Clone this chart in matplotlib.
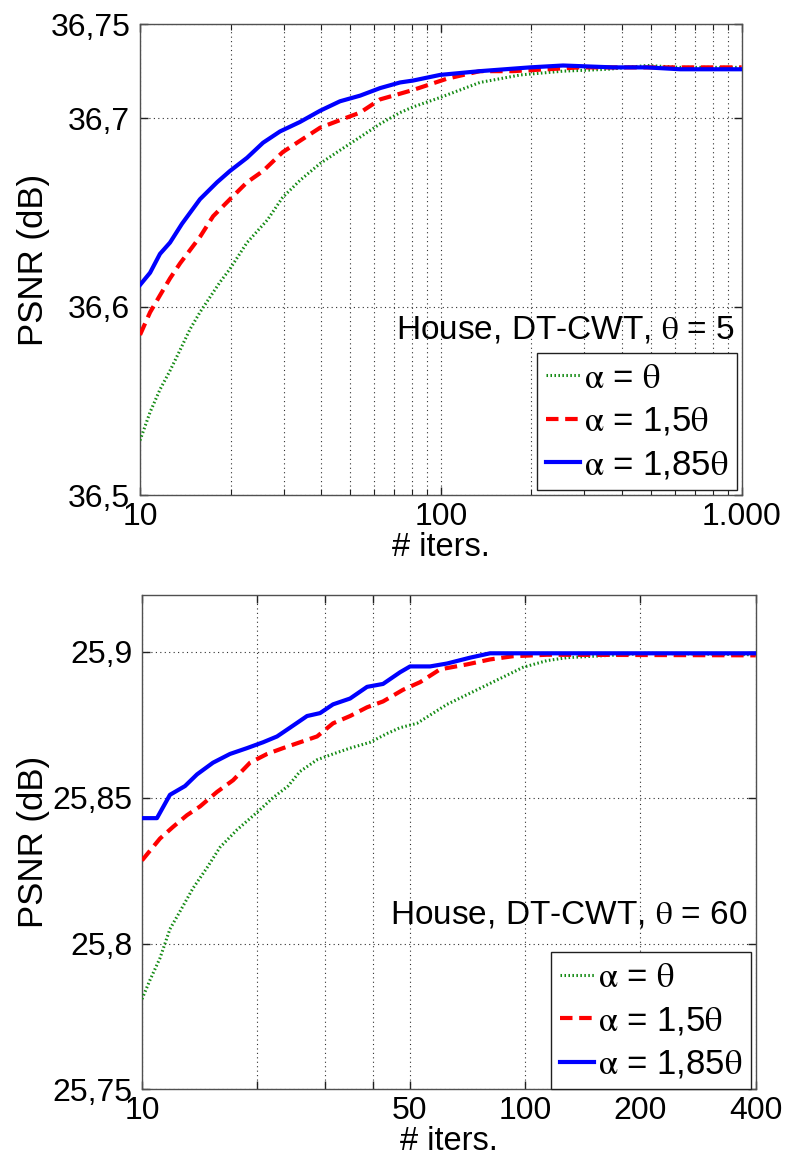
import matplotlib
matplotlib.use("Agg")
import matplotlib.pyplot as plt
from matplotlib.ticker import FixedLocator, NullLocator, FixedFormatter

plt.rcParams['font.family'] = ['Liberation Sans', 'DejaVu Sans']
plt.rcParams['mathtext.fontset'] = 'stix'

SANS = ['Liberation Sans', 'DejaVu Sans']

# ---- Panel 1: House, DT-CWT, theta = 5 (iterations 10..1000) ----
top_blue_x = [10, 10.80, 11.65, 12.58, 13.79, 15.82, 18.03, 19.90, 22.68, 25.64, 29.20,
              34.0, 39.7, 46.2, 53.9, 62.8, 73.2, 80.8, 99.4, 134.9, 197.8, 254.8,
              373, 484, 624, 1000]
top_blue_y = [36.6115, 36.618, 36.628, 36.634, 36.644, 36.657, 36.666, 36.672, 36.679,
              36.687, 36.693, 36.698, 36.704, 36.709, 36.712, 36.716, 36.719, 36.720,
              36.723, 36.725, 36.727, 36.728, 36.727, 36.727, 36.726, 36.726]

top_red_x = [10, 10.80, 11.65, 12.58, 13.59, 14.66, 15.82, 17.50, 19.90, 22.68, 25.64,
             29.80, 34.0, 39.7, 46.2, 53.9, 62.8, 80.8, 104.8, 134.9, 173.5, 225.5,
             290, 373, 484, 1000]
top_red_y = [36.585, 36.597, 36.606, 36.615, 36.623, 36.630, 36.637, 36.648, 36.657,
             36.666, 36.672, 36.682, 36.688, 36.695, 36.699, 36.703, 36.710, 36.715,
             36.721, 36.725, 36.725, 36.726, 36.727, 36.727, 36.727, 36.727]

top_green_x = [10, 10.80, 11.65, 12.58, 13.59, 14.66, 15.82, 17.08, 18.44, 19.90, 22.68,
               26.5, 29.8, 34.0, 39.7, 46.2, 53.9, 62.8, 73.2, 80.8, 99.4, 134.9,
               184, 255, 360, 484, 624, 1000]
top_green_y = [36.529, 36.544, 36.556, 36.566, 36.577, 36.588, 36.597, 36.605, 36.613,
               36.620, 36.634, 36.646, 36.658, 36.667, 36.676, 36.683, 36.690, 36.697,
               36.703, 36.706, 36.711, 36.719, 36.723, 36.725, 36.726, 36.728, 36.727,
               36.727]

top_xticks = [10, 100, 1000]
top_xticklabels = ['10', '100', '1.000']
top_yticks = [36.5, 36.6, 36.7, 36.75]
top_yticklabels = ['36,5', '36,6', '36,7', '36,75']

# ---- Panel 2: House, DT-CWT, theta = 60 (iterations 10..400) ----
bot_blue_x = [10, 10.94, 11.83, 12.95, 13.92, 15.32, 16.97, 18.80, 20.70, 22.52, 24.34,
              26.97, 29.16, 31.53, 34.93, 38.69, 42.58, 47.17, 50.10, 56.49, 62.57,
              71.85, 81.03, 98.8, 400]
bot_blue_y = [25.843, 25.843, 25.851, 25.854, 25.858, 25.862, 25.865, 25.867, 25.869,
              25.871, 25.874, 25.878, 25.879, 25.882, 25.884, 25.888, 25.889, 25.893,
              25.895, 25.895, 25.896, 25.898, 25.8995, 25.8995, 25.8995]

bot_red_x = [10, 11.14, 12.05, 13.10, 14.17, 15.70, 17.29, 19.14, 21.21, 23.34, 25.85,
             28.64, 31.53, 34.93, 38.69, 42.58, 48.03, 53.19, 59.99, 70.58, 81.03,
             93.05, 114.1, 400]
bot_red_y = [25.8285, 25.836, 25.840, 25.844, 25.847, 25.852, 25.856, 25.862, 25.865,
             25.867, 25.869, 25.871, 25.8755, 25.878, 25.881, 25.883, 25.887, 25.8896,
             25.894, 25.8957, 25.8974, 25.8985, 25.899, 25.8988]

bot_green_x = [10, 10.49, 11.14, 11.83, 12.56, 13.59, 14.78, 15.98, 17.70, 19.97, 21.98,
               24.06, 25.85, 28.64, 31.53, 34.93, 39.39, 43.63, 47.17, 52.24, 62.57,
               76.3, 89.7, 98.8, 114.1, 128.7, 208.2, 400]
bot_green_y = [25.781, 25.7875, 25.795, 25.805, 25.811, 25.819, 25.826, 25.833, 25.839,
               25.845, 25.850, 25.854, 25.859, 25.863, 25.865, 25.867, 25.869, 25.872,
               25.874, 25.8755, 25.882, 25.8875, 25.892, 25.8947, 25.897, 25.898,
               25.8995, 25.899]

bot_xticks = [10, 20, 30, 40, 50, 100, 200, 400]
bot_xticklabels = ['10', '', '', '', '50', '100', '200', '400']
bot_yticks = [25.75, 25.8, 25.85, 25.9]
bot_yticklabels = ['25,75', '25,8', '25,85', '25,9']

legend_labels = [r'$\mathrm{\alpha}$ = $\mathrm{\theta}$',
                 r'$\mathrm{\alpha}$ = 1,5$\mathrm{\theta}$',
                 r'$\mathrm{\alpha}$ = 1,85$\mathrm{\theta}$']

TICK_FS = 23
LEG_FS = 25
TITLE_FS = 24
YLAB_FS = 25
XLAB_FS = 23.5
GREEN, RED, BLUE = '#138a13', '#ff0000', '#0000ff'
GRID_KW = dict(color='#303030', linestyle=(0, (1, 3)), linewidth=0.8)

fig = plt.figure(figsize=(7.88, 11.62), dpi=100)
ax1 = fig.add_axes([0.1777, 0.5740, 0.7635, 0.4053])
ax2 = fig.add_axes([0.1802, 0.0624, 0.7788, 0.4256])


def style_axes(ax):
    ax.set_xscale('log')
    for s in ax.spines.values():
        s.set_color('#505050')
        s.set_linewidth(1.0)
    ax.tick_params(which='both', direction='in', top=True, right=True,
                   colors='#202020', labelcolor='black', labelsize=TICK_FS)
    ax.tick_params(which='major', length=6, width=1.0)
    ax.tick_params(which='minor', length=4, width=0.8)
    ax.tick_params(axis='x', pad=5)
    ax.tick_params(axis='y', pad=7)
    ax.set_ylabel('PSNR (dB)', fontsize=YLAB_FS, family=SANS)
    ax.set_xlabel('# iters.', fontsize=XLAB_FS, family=SANS, labelpad=0)


def draw_series(ax, gx, gy, rx, ry, bx, by):
    ax.plot(gx, gy, color=GREEN, linestyle=(0, (0.5, 0.8)), linewidth=2.2,
            label=legend_labels[0], zorder=3)
    ax.plot(rx, ry, color=RED, linestyle=(0, (3, 1.6)), linewidth=3.0,
            label=legend_labels[1], zorder=4)
    ax.plot(bx, by, color=BLUE, linestyle='-', linewidth=3.0,
            label=legend_labels[2], zorder=5)


def add_legend(ax, anchor):
    leg = ax.legend(loc='lower right', bbox_to_anchor=anchor,
                    prop={'family': SANS, 'size': LEG_FS},
                    frameon=True, fancybox=False, framealpha=1,
                    edgecolor='#202020', handlelength=1.0, handletextpad=0.1,
                    labelspacing=0.3, borderpad=0.25, borderaxespad=0)
    leg.get_frame().set_linewidth(1.0)
    return leg


# top panel
style_axes(ax1)
draw_series(ax1, top_green_x, top_green_y, top_red_x, top_red_y, top_blue_x, top_blue_y)
ax1.set_xlim(10, 1000)
ax1.set_ylim(36.5, 36.75)
ax1.xaxis.set_major_locator(FixedLocator(top_xticks))
ax1.xaxis.set_major_formatter(FixedFormatter(top_xticklabels))
ax1.xaxis.set_minor_locator(FixedLocator([m * d for d in (10, 100) for m in range(2, 10)]))
ax1.xaxis.set_minor_formatter(FixedFormatter([''] * 16))
ax1.set_yticks(top_yticks)
ax1.set_yticklabels(top_yticklabels)
ax1.grid(True, which='both', axis='x', **GRID_KW)
ax1.grid(True, which='major', axis='y', **GRID_KW)
ax1.text(0.989, 0.350, r'House, DT-CWT, $\mathrm{\theta}$ = 5', transform=ax1.transAxes,
         ha='right', va='center', fontsize=TITLE_FS, family=SANS, zorder=6)
add_legend(ax1, (0.992, 0.0106))

# bottom panel
style_axes(ax2)
draw_series(ax2, bot_green_x, bot_green_y, bot_red_x, bot_red_y, bot_blue_x, bot_blue_y)
ax2.set_xlim(10, 400)
ax2.set_ylim(25.75, 25.9195)
ax2.xaxis.set_major_locator(FixedLocator(bot_xticks))
ax2.xaxis.set_major_formatter(FixedFormatter(bot_xticklabels))
ax2.xaxis.set_minor_locator(NullLocator())
ax2.set_yticks(bot_yticks)
ax2.set_yticklabels(bot_yticklabels)
ax2.grid(True, which='major', axis='both', **GRID_KW)
ax2.text(0.9875, 0.353, r'House, DT-CWT, $\mathrm{\theta}$ = 60', transform=ax2.transAxes,
         ha='right', va='center', fontsize=TITLE_FS, family=SANS, zorder=6)
add_legend(ax2, (0.992, 0.0))

for ax in (ax1, ax2):
    ax.yaxis.set_label_coords(-0.15, 0.5)

fig.savefig('out.png', dpi=100)
